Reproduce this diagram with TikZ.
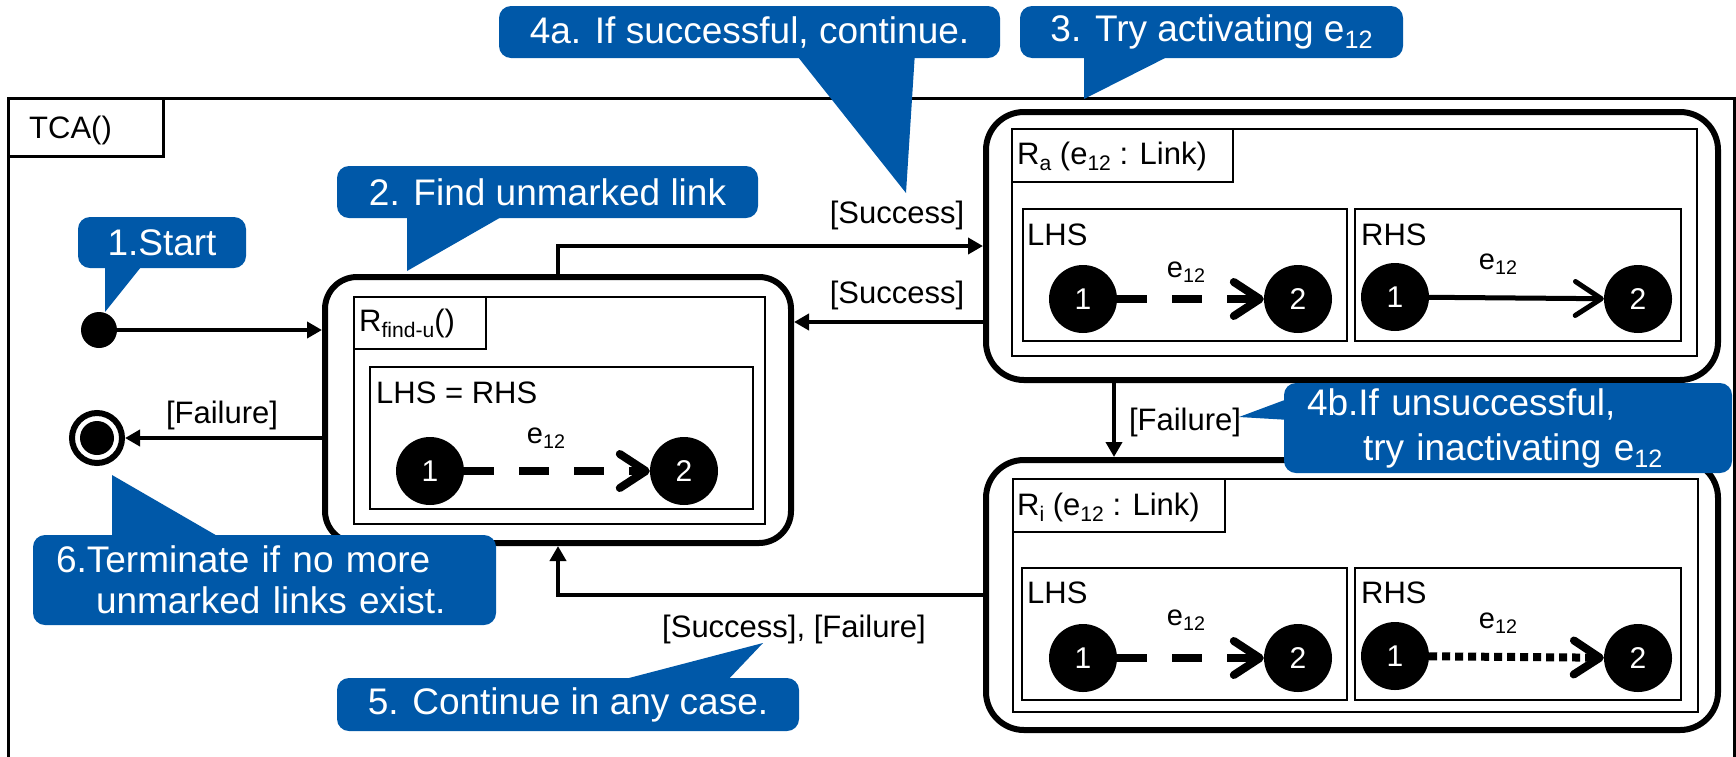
\documentclass[tikz,border=0pt]{standalone}
\usepackage{fontspec}
\setmainfont{Liberation Sans}
\usepackage{graphicx}
\usetikzlibrary{arrows.meta,calc}
\definecolor{calloutblue}{RGB}{0,88,168}
% smaller, lowered text for indices such as e_12
\newcommand\mysub[1]{\raisebox{-0.2em}{\scalebox{0.68}{#1}}}

\begin{document}
\begin{tikzpicture}[x=1pt,y=-1pt,
  lbl/.style={font=\fontsize{31}{36}\selectfont, inner sep=0pt},
  elbl/.style={font=\fontsize{29}{34}\selectfont, inner sep=0pt},
  conn/.style={line width=4.5pt, -{Triangle[length=15pt,width=16pt]}},
  outline/.style={line width=3pt},
  thinbox/.style={line width=2.5pt},
  state/.style={draw, line width=6pt, rounded corners=32pt, inner sep=0pt},
  vert/.style={circle, fill=black, text=white, minimum size=68pt, inner sep=0pt,
    font=\fontsize{30}{36}\selectfont},
  barb/.style={-{Straight Barb[length=26pt,width=34pt,round]}},
  dashedge/.style={barb, line width=8pt, dash pattern=on 30pt off 25pt},
  solidedge/.style={barb, line width=5pt},
  dotedge/.style={barb, line width=8pt, dash pattern=on 8pt off 5pt},
  callout/.style={fill=calloutblue, rounded corners=12pt, text=white, inner sep=0pt,
    font=\fontsize{37}{44}\selectfont},
  tail/.style={fill=calloutblue}
]
\useasboundingbox (0,0) rectangle (1736,756);

% outer activity frame
\draw[outline] (8,757) -- (8,98) -- (1734,98) -- (1734,757);
\draw[outline] (8,98) rectangle (163,156);
\node[lbl, anchor=base west] (tca) at (29,138) {TCA()};

% initial and final states
\node[circle, fill=black, minimum size=36pt, inner sep=0pt] (start) at (99,330) {};
\node[circle, draw, line width=6pt, minimum size=50pt, inner sep=0pt] (fin) at (97,438) {};
\fill (fin) circle (17);

% rule R_find-u
\node[state, minimum width=466pt, minimum height=266pt] (rfind) at (558,410) {};
\draw[thinbox] (354,297) rectangle (765,524);
\draw[thinbox] (354,297) rectangle (486,349);
\node[lbl, anchor=base west] (rfindname) at (359,331) {R\mysub{find-u}()};
\draw[thinbox] (370,367) rectangle (753,509);
\node[lbl, anchor=base west] (rfindlhs) at (376,403) {LHS = RHS};
\node[vert] (f1) at (430,471) {1};
\node[vert] (f2) at (684,471) {2};
\draw[dashedge] (f1) -- (f2);
\node[elbl, anchor=base] (fe) at (546,443) {e\mysub{12}};

% rule R_a
\node[state, minimum width=732pt, minimum height=268pt, rounded corners=38pt] (ra) at (1352,246) {};
\draw[thinbox] (1012,129) rectangle (1697,356);
\draw[thinbox] (1012,129) rectangle (1233,182);
\node[lbl, anchor=base west] (raname) at (1017,164) {R\mysub{a} (e\mysub{12} : Link)};
\draw[thinbox] (1023,209) rectangle (1347,341);
\draw[thinbox] (1355,209) rectangle (1681,341);
\node[lbl, anchor=base west] (ralhs) at (1027,245) {LHS};
\node[lbl, anchor=base west] (rarhs) at (1361,245) {RHS};
\node[vert] (a1) at (1083,299) {1};
\node[vert] (a2) at (1298,299) {2};
\node[vert] (a3) at (1395,297) {1};
\node[vert] (a4) at (1638,299) {2};
\draw[dashedge] (a1) -- (a2);
\draw[solidedge] (a3) -- (a4);
\node[elbl, anchor=base] (ae1) at (1186,277) {e\mysub{12}};
\node[elbl, anchor=base] (ae2) at (1498,269) {e\mysub{12}};

% rule R_i
\node[state, minimum width=732pt, minimum height=270pt, rounded corners=38pt] (ri) at (1352,595) {};
\draw[thinbox] (1013,479) rectangle (1698,712);
\draw[thinbox] (1013,479) rectangle (1225,532);
\node[lbl, anchor=base west] (riname) at (1017,515) {R\mysub{i} (e\mysub{12} : Link)};
\draw[thinbox] (1022,568) rectangle (1347,700);
\draw[thinbox] (1355,568) rectangle (1681,700);
\node[lbl, anchor=base west] (rilhs) at (1027,603) {LHS};
\node[lbl, anchor=base west] (rirhs) at (1361,603) {RHS};
\node[vert] (i1) at (1083,658) {1};
\node[vert] (i2) at (1298,658) {2};
\node[vert] (i3) at (1395,656) {1};
\node[vert] (i4) at (1638,658) {2};
\draw[dashedge] (i1) -- (i2);
\draw[dotedge] (i3) -- (i4);
\node[elbl, anchor=base] (ie1) at (1186,625) {e\mysub{12}};
\node[elbl, anchor=base] (ie2) at (1498,628) {e\mysub{12}};

% transitions
\draw[conn] (start) -- (start -| rfind.west);
\draw[conn] (rfind.north) |- (ra.west);
\coordinate (raback) at ($(ra.west)+(0,76)$);
\draw[conn] (raback) -- (raback -| rfind.east);
\coordinate (rafail) at ($(ra.south west)+(131,0)$);
\draw[conn] (rafail) -- (rafail |- ri.north);
\draw[conn] (ri.west) -| (rfind.south);
\draw[conn] (rfind.west |- fin) -- (fin);

% guards
\node[lbl, anchor=base] (g1) at (897,223) {[Success]};
\node[lbl, anchor=base] (g2) at (897,303) {[Success]};
\node[lbl, anchor=base] (g3) at (1185,430) {[Failure]};
\node[lbl, anchor=base] (g4) at (794,637) {[Success], [Failure]};
\node[lbl, anchor=base] (g5) at (222,423) {[Failure]};

% callouts
\fill[tail] (105,262) -- (105,312) -- (145,262) -- cycle;
\node[callout, minimum width=168pt, minimum height=51pt] (c1) at (162,242.5) {1.Start};

\fill[tail] (407,212) -- (407,271) -- (510,212) -- cycle;
\node[callout, minimum width=421pt, minimum height=52pt] (c2) at (547.5,192) {2. Find unmarked link};

\fill[tail] (1084,52) -- (1084,99) -- (1177,52) -- cycle;
\node[callout, minimum width=383pt, minimum height=52pt] (c3) at (1211.5,32) {3. Try activating e\mysub{12}};

\fill[tail] (794,52) -- (906,193) -- (915,52) -- cycle;
\node[callout, minimum width=501pt, minimum height=52pt] (c4a) at (749.5,32) {4a. If successful, continue.};

\fill[tail] (1290,398) -- (1239,417) -- (1290,420) -- cycle;
\node[callout, minimum width=448pt, minimum height=90pt, text width=402pt, inner xsep=23pt,
  align=left, font=\fontsize{37}{45}\selectfont] (c4b) at (1508,428)
  {4b.If unsuccessful,\\\hspace*{56pt}try inactivating e\mysub{12}};

\fill[tail] (606,684) -- (763,643) -- (724,684) -- cycle;
\node[callout, minimum width=462pt, minimum height=53pt] (c5) at (568,704.5) {5. Continue in any case.};

\fill[tail] (112,541) -- (112,475) -- (226,541) -- cycle;
\node[callout, minimum width=463pt, minimum height=90pt, text width=417pt, inner xsep=23pt,
  align=left, font=\fontsize{37}{41}\selectfont] (c6) at (264.5,580)
  {6.Terminate if no more\\\hspace*{40pt}unmarked links exist.};
\end{tikzpicture}
\end{document}
